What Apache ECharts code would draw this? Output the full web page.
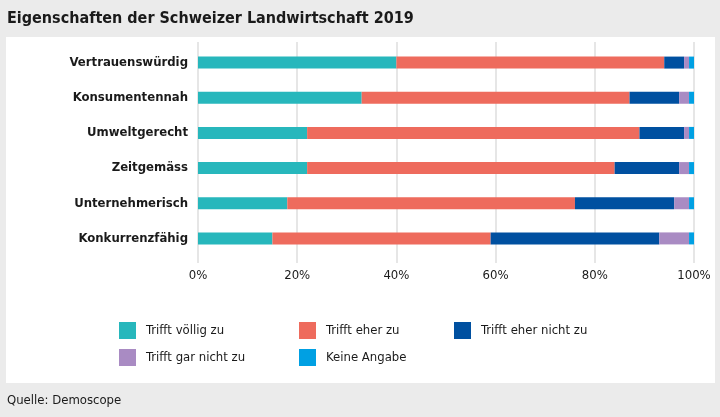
<!DOCTYPE html>
<html><head><meta charset="utf-8">
<script src="https://cdn.jsdelivr.net/npm/echarts@6/dist/echarts.min.js"></script>
<style>html,body{margin:0;padding:0;background:#ebebeb;}#c{width:720px;height:417px;}</style>
</head><body><div id="c"></div>
<script>
const categories = ["Vertrauenswürdig","Konsumentennah","Umweltgerecht","Zeitgemäss","Unternehmerisch","Konkurrenzfähig"];
const seriesNames = ["Trifft völlig zu","Trifft eher zu","Trifft eher nicht zu","Trifft gar nicht zu","Keine Angabe"];
const voelligZu   = [40, 33, 22, 22, 18, 15];
const eherZu      = [54, 54, 67, 62, 58, 44];
const eherNichtZu = [4, 10, 9, 13, 20, 34];
const garNichtZu  = [1, 2, 1, 2, 3, 6];
const keineAngabe = [1, 1, 1, 1, 1, 1];
const xTicks = [0, 20, 40, 60, 80, 100];
const colors = ["#27b7bc","#ee6b5d","#0050a0","#a98bc3","#00a0e3"];
const values = [voelligZu, eherZu, eherNichtZu, garNichtZu, keineAngabe];

const font = "'DejaVu Sans Condensed', 'Liberation Sans Narrow', sans-serif";
const chart = echarts.init(document.getElementById('c'));
const legendItem = (names, left) => ({
  data: names, orient: 'vertical', left: left, top: 322, itemGap: 10, padding: 0,
  itemWidth: 17, itemHeight: 17, icon: 'rect', selectedMode: false,
  textStyle: {fontFamily: font, fontSize: 13, color: '#1a1a1a', padding: [0,0,0,5]}
});
chart.setOption({
  animation: false,
  backgroundColor: '#ebebeb',
  graphic: [
    {type: 'rect', shape: {x: 6, y: 37, width: 709, height: 346}, style: {fill: '#ffffff'}, z: -10},
    {type: 'text', left: 7, top: 394, style: {text: 'Quelle: Demoscope', font: '13px ' + font, fill: '#1a1a1a'}}
  ],
  title: {text: 'Eigenschaften der Schweizer Landwirtschaft 2019', left: 2, top: 6,
    textStyle: {fontFamily: font, fontSize: 16, fontWeight: 'bold', color: '#1a1a1a'}},
  legend: [
    legendItem([seriesNames[0], seriesNames[3]], 119),
    legendItem([seriesNames[1], seriesNames[4]], 299),
    legendItem([seriesNames[2]], 454)
  ],
  grid: [
    {left: 198, right: 26, top: 42, height: 221},
    {left: 198, right: 26, top: 45, height: 211}
  ],
  xAxis: [
    {type: 'value', gridIndex: 0, min: 0, max: 100, interval: 20,
      axisLine: {show: false}, axisTick: {show: false},
      splitLine: {lineStyle: {color: '#e6e6e6', width: 2}},
      axisLabel: {formatter: v => xTicks.includes(v) ? v + '%' : '', margin: 6,
        fontFamily: font, fontSize: 13, color: '#1a1a1a'}},
    {type: 'value', gridIndex: 1, min: 0, max: 100, interval: 20, show: false,
      splitLine: {show: false}}
  ],
  yAxis: [
    {type: 'category', gridIndex: 0, data: categories, show: false},
    {type: 'category', gridIndex: 1, data: categories, inverse: true,
      axisLine: {show: false}, axisTick: {show: false},
      axisLabel: {margin: 10, fontFamily: font, fontSize: 13, fontWeight: 'bold', color: '#1a1a1a'}}
  ],
  series: seriesNames.map((n, i) => ({
    name: n, type: 'bar', stack: 'total', data: values[i], barWidth: 12,
    xAxisIndex: 1, yAxisIndex: 1,
    itemStyle: {color: colors[i]}
  }))
});
</script></body></html>
